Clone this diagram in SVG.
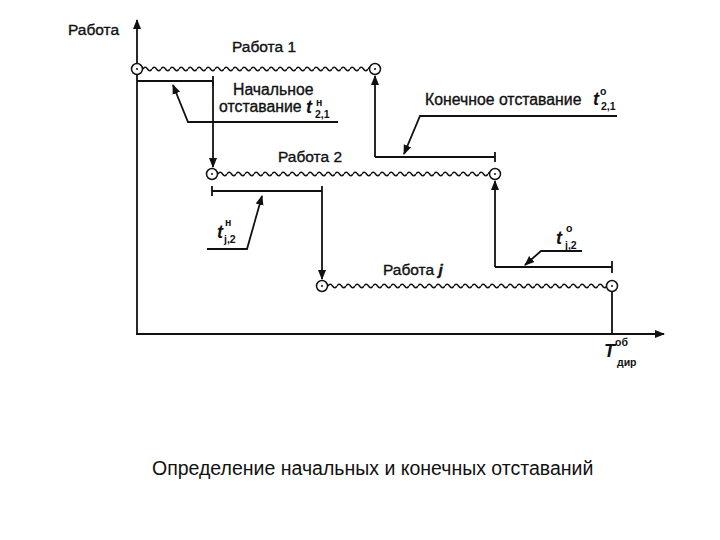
<svg xmlns="http://www.w3.org/2000/svg" width="720" height="540" viewBox="0 0 720 540">
<style>
.ln{stroke:#111;stroke-width:1.8;fill:none}
.ar{stroke:#111;stroke-width:1.8;fill:none;marker-end:url(#ah)}
.lb{font-family:"Liberation Sans",Arial,sans-serif;font-size:15.5px;fill:#111;stroke:#111;stroke-width:0.35}
.lg{font-family:"Liberation Sans",Arial,sans-serif;font-size:15.8px;fill:#111;stroke:#111;stroke-width:0.35}
.ti{font-family:"Liberation Sans",Arial,sans-serif;font-style:italic;font-weight:bold;font-size:18px;fill:#111}
.sm{font-family:"Liberation Sans",Arial,sans-serif;font-weight:bold;font-size:10.5px;fill:#111}
.cap{font-family:"Liberation Sans",Arial,sans-serif;font-size:19.5px;fill:#111}
.nd{fill:#fff;stroke:#111;stroke-width:1.5}
.dt{fill:#111}
</style>
<defs>
<marker id="ah" viewBox="0 0 10 10" refX="9" refY="5" markerWidth="10" markerHeight="10" markerUnits="userSpaceOnUse" orient="auto">
<path d="M0,1 L10,5 L0,9 Z" fill="#111"/>
</marker>
<pattern id="wave" patternUnits="userSpaceOnUse" width="9" height="8">
<path d="M0,4 Q2.25,0.4 4.5,4 T9,4" fill="none" stroke="#111" stroke-width="1.5"/>
</pattern>
</defs>
<rect width="720" height="540" fill="#fff"/>

<g id="axes">
<line class="ar" x1="137" y1="334" x2="137" y2="20"/>
<line class="ar" x1="136" y1="334" x2="664" y2="334"/>
<text class="lb" x="68" y="35">Работа</text>
<text class="ti" x="604" y="357">T</text>
<text class="sm" x="615" y="346">об</text>
<text class="sm" x="617" y="366">дир</text>
</g>

<g id="work1">
<g transform="translate(143,65)"><rect width="226" height="8" fill="url(#wave)"/></g>
<circle class="nd" cx="137" cy="69" r="5.5"/><circle class="dt" cx="137" cy="69" r="1"/>
<circle class="nd" cx="375" cy="69" r="5.5"/><circle class="dt" cx="375" cy="69" r="1"/>
<text class="lb" x="232" y="52">Работа 1</text>
</g>

<g id="work2">
<g transform="translate(218,170)"><rect width="271" height="8" fill="url(#wave)"/></g>
<circle class="nd" cx="212" cy="174" r="5.5"/><circle class="dt" cx="212" cy="174" r="1"/>
<circle class="nd" cx="495" cy="174" r="5.5"/><circle class="dt" cx="495" cy="174" r="1"/>
<text class="lb" x="278" y="162">Работа 2</text>
</g>

<g id="workj">
<g transform="translate(328,282)"><rect width="278" height="8" fill="url(#wave)"/></g>
<circle class="nd" cx="322" cy="286" r="5.5"/><circle class="dt" cx="322" cy="286" r="1"/>
<circle class="nd" cx="612" cy="286" r="5.5"/><circle class="dt" cx="612" cy="286" r="1"/>
<text class="lb" x="383" y="275">Работа <tspan font-style="italic" font-weight="bold">j</tspan></text>
</g>

<g id="label-start21">
<text class="lg" x="233" y="95">Начальное</text>
<text class="lg" x="219" y="112">отставание</text>
<text class="ti" x="306" y="113">t</text>
<text class="sm" x="316" y="106" font-size="9">н</text>
<text class="sm" x="315" y="118">2,1</text>
</g>

<g id="label-end21">
<text class="lg" x="425" y="105" font-size="16.4">Конечное отставание</text>
<text class="ti" x="593" y="105">t</text>
<text class="sm" x="600" y="95" font-size="9.5">о</text>
<text class="sm" x="601" y="110">2,1</text>
</g>

<g id="label-startj2">
<text class="ti" x="217" y="238">t</text>
<text class="sm" x="225" y="226">н</text>
<text class="sm" x="224" y="243">j,2</text>
</g>

<g id="label-endj2">
<text class="ti" x="556" y="244">t</text>
<text class="sm" x="566" y="232">о</text>
<text class="sm" x="565" y="249">j,2</text>
</g>

<g id="connectors">
<line class="ln" x1="137" y1="81" x2="213" y2="81"/>
<line class="ln" x1="213" y1="76" x2="213" y2="86"/>
<line class="ar" x1="213" y1="81" x2="213" y2="167"/>
<polyline class="ar" points="338,122 188,122 173,85"/>

<line class="ar" x1="375" y1="157" x2="375" y2="76"/>
<line class="ln" x1="375" y1="157" x2="495" y2="157"/>
<line class="ln" x1="495" y1="152" x2="495" y2="162"/>
<polyline class="ar" points="617,116 420,116 404,154"/>

<line class="ln" x1="212" y1="191" x2="322" y2="191"/>
<line class="ln" x1="212" y1="186" x2="212" y2="196"/>
<line class="ln" x1="322" y1="186" x2="322" y2="191"/>
<line class="ar" x1="322" y1="191" x2="322" y2="279"/>
<polyline class="ar" points="207,249 247,249 262,196"/>

<line class="ar" x1="495" y1="267" x2="495" y2="181"/>
<line class="ln" x1="495" y1="267" x2="612" y2="267"/>
<line class="ln" x1="612" y1="261" x2="612" y2="273"/>
<polyline class="ar" points="582,251 541,251 525,265"/>
<line class="ln" x1="612" y1="292" x2="612" y2="334"/>
</g>

<text class="cap" x="152" y="475">Определение начальных и конечных отставаний</text>
</svg>
